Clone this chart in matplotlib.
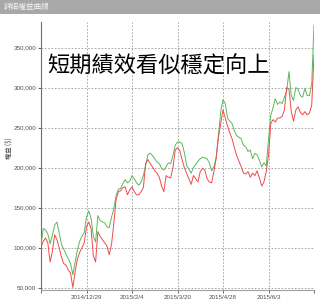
import matplotlib
matplotlib.use("Agg")
import matplotlib.pyplot as plt
from matplotlib.patches import Rectangle
from matplotlib.ticker import FuncFormatter

plt.rcParams['font.family'] = ['Noto Sans CJK TC', 'DejaVu Sans']

# data (thousands of $), one point per trading day
green = [103, 124, 122, 117, 105, 115, 128, 132, 118, 104,
         98, 92, 86, 80, 66, 82, 97, 108, 114, 119,
         138, 146, 137, 114, 107, 140, 134, 132, 131, 126,
         125, 138, 148, 165, 173, 174, 180, 185, 181, 183,
         190, 186, 181, 178, 182, 190, 203, 216, 218, 215,
         211, 207, 205, 199, 197, 201, 206, 205, 215, 228,
         232, 232, 230, 219, 203, 198, 193, 200, 204, 208,
         211, 213, 212, 211, 206, 196, 201, 212, 240, 270,
         285, 280, 262, 258, 255, 246, 240, 238, 236, 228,
         226, 220, 222, 211, 218, 216, 209, 201, 206, 202,
         235, 265, 275, 286, 279, 282, 280, 288, 296, 320,
         290, 284, 300, 298, 290, 288, 299, 290, 290, 305,
         378]
red = [101, 108, 112, 106, 82, 95, 116, 110, 100, 88,
       80, 78, 72, 68, 50, 70, 86, 94, 100, 106,
       126, 132, 124, 90, 82, 120, 114, 110, 106, 102,
       91, 104, 130, 160, 170, 171, 175, 176, 166, 172,
       176, 170, 166, 166, 170, 175, 205, 210, 205, 201,
       196, 193, 188, 177, 170, 190, 188, 187, 200, 222,
       225, 221, 210, 200, 193, 186, 179, 190, 186, 182,
       195, 199, 197, 186, 182, 181, 195, 212, 238, 255,
       272, 262, 252, 243, 236, 225, 215, 208, 201, 193,
       192, 195, 188, 193, 190, 196, 187, 177, 182, 195,
       215, 255, 260, 257, 262, 262, 264, 272, 300, 298,
       270, 258, 272, 276, 269, 266, 270, 266, 268, 278,
       341]
tick_pos = [20, 40, 60, 80, 100]
tick_labels = ["2014/12/29", "2015/2/4", "2015/3/20", "2015/4/28", "2015/6/3"]
y_ticks = [50000, 100000, 150000, 200000, 250000, 300000, 350000]

W, H = 320, 303
fig = plt.figure(figsize=(W / 100, H / 100), dpi=100)
fig.patch.set_facecolor("white")

# title bar
fig.patches.append(Rectangle((0, 1 - 14 / H), 1, 14 / H, transform=fig.transFigure,
                             facecolor="#a8a8a8", edgecolor="none", zorder=0))
fig.text(4 / W, 1 - 7.5 / H, "詳細權益曲線", color="#f4f4f4", fontsize=5.5,
         va="center", ha="left")

ax = fig.add_axes([41 / W, 1 - 290 / H, 273 / W, 268 / H])
x = list(range(len(green)))
gv = [v * 1000 for v in green]
rv = [v * 1000 for v in red]
ax.plot(x, gv, color="#5cb85c", lw=0.7, zorder=3)
ax.plot(x, rv, color="#f04a4a", lw=0.7, zorder=3)

ax.set_xlim(0, 120)
ax.set_ylim(47000, 382000)
ax.set_yticks(y_ticks)
ax.yaxis.set_major_formatter(FuncFormatter(lambda v, p: f"{int(v):,}"))
ax.set_xticks([0] + tick_pos + [120])
ax.set_xticklabels([""] + tick_labels + [""])

ax.grid(True, color="#9a9a9a", linestyle=(0, (2, 2)), linewidth=0.6)
for s in ["top", "right"]:
    ax.spines[s].set_visible(False)
ax.spines["left"].set_color("#707070")
ax.spines["bottom"].set_color("#a0a0a0")
ax.spines["left"].set_linewidth(0.8)
ax.spines["bottom"].set_linewidth(0.8)
ax.tick_params(axis="both", labelsize=4.5, colors="#505050", length=2, width=0.6, pad=1.5)
for lab in ax.get_xticklabels() + ax.get_yticklabels():
    lab.set_family(["Liberation Sans", "DejaVu Sans"])

fig.text(9 / W, 1 - 148 / H, "權益 ($)", rotation=90, fontsize=4.5, color="#404040",
         va="center", ha="center")

fig.text(47 / W, 1 - 66 / H, "短期績效看似穩定向上", fontsize=16, color="black",
         va="center", ha="left")

fig.savefig("out.png", dpi=100)
